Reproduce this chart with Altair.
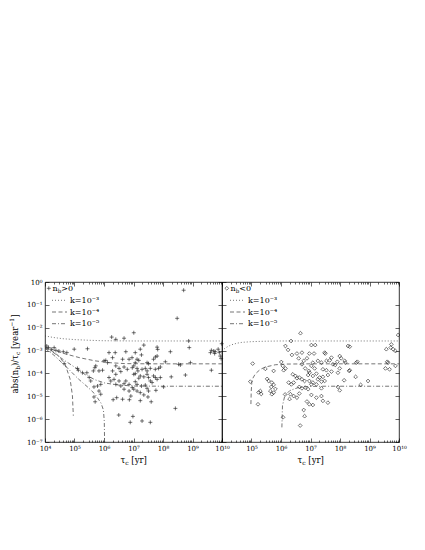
import altair as alt
import pandas as pd

# ---------------- data (log10 values) ----------------
# left panel: n_b > 0  (log10 tau_c [yr], log10 |n_b|/tau_c [1/yr])
pos_logtau = [4.06, 4.12, 4.21, 4.37, 4.31, 4.47, 4.62, 4.74, 4.99, 5.44, 4.65, 5.10, 5.13, 5.27, 5.42,
              5.50, 5.55, 5.64, 5.69, 5.83, 5.95, 5.72, 6.17, 6.38, 6.74, 6.68, 6.26, 6.40, 6.00, 6.06,
              6.12, 6.29, 6.63, 6.85, 6.40, 6.51, 6.68, 6.96, 6.29, 6.40, 6.57, 6.79, 6.17, 6.23, 6.34,
              6.51, 6.74, 6.40, 6.57, 6.68, 6.85, 6.96, 5.66, 5.78, 5.89, 5.83, 5.89, 5.66, 5.70, 6.68,
              6.85, 6.91, 6.43, 6.63, 6.50, 6.98, 6.89, 7.29, 7.57, 8.42, 6.31, 6.86, 7.23, 7.60,
              8.70, 8.48, 7.01, 8.87, 7.35, 7.80, 7.82, 8.25, 8.89, 7.06, 7.23, 7.27, 6.95, 7.12, 7.18,
              7.06, 7.46, 7.51, 7.68, 7.74, 7.80, 8.08, 7.91, 7.85, 7.74, 8.53, 8.59, 8.93, 7.01, 7.12,
              7.15, 7.29, 7.40, 7.46, 7.57, 7.01, 7.06, 7.18, 7.23, 7.35, 7.46, 7.51, 7.68, 7.74, 7.80,
              7.91, 7.57, 7.63, 8.28, 8.76, 7.06, 7.12, 7.27, 7.40, 8.02, 7.01, 7.12, 7.23, 7.46, 7.51,
              7.76, 7.35, 7.49, 9.61, 9.64, 9.72, 9.75, 9.77, 9.87, 9.91, 9.94, 9.97, 9.64, 9.99]
pos_lograte = [-2.80, -2.87, -2.94, -2.99, -2.87, -3.02, -3.05, -3.09, -2.94, -2.92, -3.57, -3.78, -3.86, -3.97, -3.97,
               -4.18, -4.33, -3.89, -3.75, -3.89, -3.86, -3.67, -3.09, -3.09, -3.05, -2.46, -2.41, -2.51, -3.45, -3.43,
               -3.53, -3.31, -3.38, -3.38, -3.67, -3.78, -3.72, -3.75, -3.89, -4.04, -3.92, -3.82, -4.18, -4.33, -4.26,
               -4.33, -4.33, -4.48, -4.55, -4.45, -4.48, -4.62, -4.59, -4.55, -4.48, -4.77, -4.91, -5.03, -5.24, -4.69,
               -4.77, -4.99, -5.06, -5.13, -5.82, -5.88, -6.14, -6.08, -6.14, -5.53, -5.15, -5.15, -5.19, -5.24,
               -0.36, -1.59, -2.22, -2.58, -2.76, -2.85, -2.95, -3.05, -2.87, -3.09, -2.94, -3.19, -3.31, -3.38, -3.43,
               -3.53, -3.53, -3.57, -3.38, -3.28, -3.24, -3.49, -3.72, -3.78, -3.82, -3.60, -3.63, -3.53, -3.67, -3.78,
               -3.89, -3.82, -3.78, -3.89, -3.78, -4.04, -4.01, -4.21, -4.11, -4.15, -4.04, -4.18, -4.11, -4.18, -4.26,
               -4.18, -4.33, -4.40, -4.15, -4.07, -4.36, -4.48, -4.55, -4.51, -4.59, -4.69, -4.77, -4.84, -4.65, -4.77,
               -4.74, -4.94, -5.03, -3.09, -2.99, -3.02, -3.13, -3.05, -2.94, -3.09, -3.24, -3.35, -3.86, -2.70]

# right panel: n_b < 0
neg_logtau = [6.66, 6.34, 6.15, 5.04, 5.47, 6.24, 6.37, 6.54, 6.71, 6.60, 6.77, 6.88, 6.96, 6.01, 6.06,
              6.15, 6.09, 6.71, 6.82, 6.94, 5.75, 6.40, 6.49, 6.54, 6.62, 6.71, 6.80, 6.92, 6.96, 7.03,
              6.26, 6.35, 6.43, 6.62, 6.71, 6.82, 6.92, 4.96, 5.53, 5.58, 5.69, 5.75, 5.67, 5.81, 5.64,
              5.75, 5.69, 5.30, 5.33, 5.24, 6.32, 6.43, 6.54, 6.62, 6.88, 6.96, 5.22, 6.77, 6.80, 6.07,
              6.65, 6.14, 6.29,
              7.03, 7.16, 7.12, 7.48, 7.50, 7.71, 7.99, 8.04, 7.91, 8.27, 8.33, 7.08, 7.25, 7.37, 7.54,
              7.65, 7.76, 7.84, 7.03, 7.14, 7.42, 7.54, 6.97, 7.08, 7.20, 7.31, 7.42, 7.59, 7.71, 7.93,
              7.99, 8.16, 8.18, 8.31, 8.33, 8.55, 8.59, 8.14, 8.53, 8.95, 8.70, 7.08, 7.20, 7.25, 7.37,
              7.48, 7.93, 7.99, 7.37, 7.03, 7.20, 7.37, 7.42, 7.59, 7.08, 9.74, 9.72, 9.80, 9.88, 9.57,
              9.60, 9.63, 9.88, 9.54, 9.68, 9.97]
neg_lograte = [-2.24, -2.58, -2.80, -3.57, -3.80, -2.97, -3.19, -3.13, -3.09, -3.34, -3.45, -3.34, -3.13, -3.50, -3.67,
               -3.78, -3.86, -3.60, -3.78, -3.89, -3.89, -4.04, -4.11, -4.21, -4.18, -4.26, -4.33, -4.07, -4.33, -4.48,
               -4.40, -4.48, -4.40, -4.59, -4.65, -4.62, -4.69, -4.36, -4.24, -4.33, -4.40, -4.50, -4.59, -4.68, -4.77,
               -4.84, -4.91, -4.77, -4.90, -4.83, -4.91, -4.99, -5.06, -4.88, -5.23, -5.35, -5.35, -5.60, -5.87, -5.92,
               -6.28, -4.92, -5.12,
               -2.76, -2.76, -3.13, -3.09, -3.13, -3.31, -3.24, -3.34, -3.49, -2.80, -2.83, -3.53, -3.45, -3.53, -3.45,
               -3.43, -3.60, -3.63, -3.67, -3.78, -3.82, -3.86, -3.97, -4.11, -4.01, -4.18, -4.15, -4.07, -3.92, -3.97,
               -3.78, -3.45, -3.53, -3.89, -3.86, -3.53, -3.49, -4.30, -4.15, -4.33, -4.50, -4.40, -4.48, -4.26, -4.36,
               -4.33, -4.59, -4.74, -4.65, -4.94, -5.06, -4.99, -5.20, -5.28, -5.38, -2.73, -2.87, -2.94, -3.02, -2.94,
               -3.49, -3.53, -3.67, -3.78, -3.82, -2.32]

# model curves (log10 tau, log10 rate), k = 1e-3 / 1e-4 / 1e-5
L_k3_x = [4.0, 4.3, 4.6, 5.0, 5.5, 6.0, 7.0, 8.0, 10.0]
L_k3_y = [-2.36, -2.43, -2.48, -2.52, -2.55, -2.57, -2.58, -2.58, -2.58]
L_k4a_x = [4.0, 4.3, 4.7, 5.2, 5.7, 6.2, 6.7, 7.5, 10.0]
L_k4a_y = [-2.84, -2.98, -3.15, -3.32, -3.45, -3.53, -3.57, -3.58, -3.58]
L_k4b_x = [4.0, 4.2, 4.45, 4.68, 4.85, 4.93, 4.96]
L_k4b_y = [-2.86, -2.98, -3.22, -3.59, -4.24, -4.97, -5.85]
L_k5a_x = [4.0, 4.3, 4.68, 5.0, 5.36, 5.7, 6.03, 6.5, 7.0, 8.0, 10.0]
L_k5a_y = [-2.88, -3.10, -3.45, -3.72, -4.05, -4.28, -4.42, -4.51, -4.55, -4.56, -4.56]
L_k5b_x = [4.0, 4.3, 4.68, 5.13, 5.45, 5.69, 5.9, 5.98, 6.01, 6.02]
L_k5b_y = [-2.90, -3.20, -3.66, -4.24, -4.60, -4.90, -5.30, -5.60, -6.10, -7.0]

R_k3_x = [4.0, 4.08, 4.2, 4.34, 4.5, 4.68, 5.0, 5.5, 6.0, 10.0]
R_k3_y = [-3.02, -2.92, -2.82, -2.74, -2.68, -2.64, -2.61, -2.59, -2.58, -2.58]
R_k4_x = [4.98, 4.99, 5.01, 5.05, 5.13, 5.3, 5.47, 5.81, 6.2, 7.0, 10.0]
R_k4_y = [-5.34, -4.80, -4.40, -4.20, -4.02, -3.82, -3.72, -3.62, -3.59, -3.58, -3.58]
R_k5_x = [6.03, 6.04, 6.05, 6.13, 6.3, 6.58, 6.92, 7.5, 10.0]
R_k5_y = [-6.36, -5.90, -5.41, -4.97, -4.75, -4.62, -4.57, -4.56, -4.56]

x_tick_exps = [4, 5, 6, 7, 8, 9, 10]
y_tick_exps = [0, -1, -2, -3, -4, -5, -6, -7]
k_labels = ["k=10⁻³", "k=10⁻⁴", "k=10⁻⁵"]

# ---------------- layout / style ----------------
W, H = 177, 160
FONT = "DejaVu Serif"
XS = alt.Scale(type="log", domain=[1e4, 1e10], nice=False)
YS = alt.Scale(type="log", domain=[1e-7, 1], nice=False)
x_major = [10.0 ** e for e in x_tick_exps]
x_minor = [m * 10.0 ** e for e in x_tick_exps[:-1] for m in range(2, 10)]
y_major = [10.0 ** e for e in y_tick_exps]
XLAB = ("'10' + ['⁰','¹','²','³','⁴','⁵','⁶','⁷','⁸','⁹','¹⁰']"
        "[round(log(datum.value)/LN10)]")
YLAB = ("'10' + ['⁰','⁻¹','⁻²','⁻³','⁻⁴','⁻⁵','⁻⁶','⁻⁷']"
        "[round(-log(datum.value)/LN10)]")
PLUS = "M-1,0L1,0M0,-1L0,1"

CW = {'a': .596, 'b': .640, 'c': .560, 'e': .592, 'n': .644, 'r': .478, 's': .514, 'y': .565,
      '(': .390, ')': .390, '/': .337, '[': .390, ']': .390, ' ': .318, '−': .838, '1': .636,
      '0': .636, '>': .838, '<': .838, 'τ': .560}


def ax(**kw):
    base = dict(grid=False, domain=False, title=None, labels=False, ticks=False,
                labelFlush=False, labelOverlap=False, tickColor="black", tickWidth=0.6,
                labelFont=FONT, labelFontSize=7, labelColor="black")
    base.update(kw)
    return alt.Axis(**base)


def text_layer(t, x, y, fs, angle=0):
    return alt.Chart(pd.DataFrame({"t": [t]})).mark_text(
        align="left", baseline="alphabetic", font=FONT, fontSize=fs, angle=angle, color="black"
    ).encode(x=alt.value(x), y=alt.value(y), text="t:N")


def rich(pieces, x0, y0, vertical=False):
    """pieces: (text, fontsize, shift) laid out along the reading direction."""
    layers, off = [], 0.0
    for t, fs, sh in pieces:
        lead = len(t) - len(t.lstrip(' '))
        off += lead * CW[' '] * fs
        s = t.strip()
        if vertical:
            layers.append(text_layer(s, x0 + sh, y0 - off, fs, angle=270))
        else:
            layers.append(text_layer(s, x0 + off, y0 + sh, fs))
        off += sum(CW.get(ch, .6) for ch in s) * fs
    return layers


def curves_df(branches):
    rows = []
    for k, name, xs, ys in branches:
        for i, (a, b) in enumerate(zip(xs, ys)):
            rows.append({"tau": 10 ** a, "rate": 10 ** b, "k": k, "branch": name, "idx": i})
    return pd.DataFrame(rows)


DASH = alt.Scale(domain=["k3", "k4", "k5"], range=[[1, 2], [4, 2.5], [4, 2, 1, 2]])


def panel(logtau, lograte, branches, shape, psize, left, legend_text, leg_dx):
    pts = pd.DataFrame({"tau": [10 ** v for v in logtau], "rate": [10 ** v for v in lograte]})
    xlab_vals = x_major if left else x_major[1:]
    yaxis_main = ax(orient="left", values=y_major, labels=left, labelExpr=YLAB, labelPadding=3)
    p = alt.Chart(pts).mark_point(shape=shape, filled=False, size=psize, strokeWidth=0.6,
                                  color="#1a1a1a", opacity=1).encode(
        x=alt.X("tau:Q", scale=XS, axis=ax(orient="bottom", values=xlab_vals, labels=True,
                                            labelExpr=XLAB, labelPadding=2)),
        y=alt.Y("rate:Q", scale=YS, axis=yaxis_main))
    c = alt.Chart(curves_df(branches)).mark_line(strokeWidth=0.7, color="#3a3a3a", clip=True).encode(
        x=alt.X("tau:Q", scale=XS, axis=ax(orient="top", offset=-H, values=x_major, ticks=True, tickSize=4)),
        y=alt.Y("rate:Q", scale=YS, axis=ax(orient="right", offset=-W, values=y_major, ticks=True, tickSize=4)),
        strokeDash=alt.StrokeDash("k:N", scale=DASH, legend=None),
        detail="branch:N", order="idx:Q")
    d1 = alt.Chart(pts).mark_point(opacity=0).encode(
        x=alt.X("tau:Q", scale=XS, axis=ax(orient="top", offset=-H, values=x_minor, ticks=True, tickSize=2)),
        y=alt.Y("rate:Q", scale=YS, axis=ax(orient="left", offset=-W, values=y_major, ticks=True, tickSize=4)))
    d2 = alt.Chart(pts).mark_point(opacity=0).encode(
        x=alt.X("tau:Q", scale=XS, axis=ax(orient="bottom", offset=-H, values=x_major, ticks=True, tickSize=4)),
        y=alt.Y("rate:Q", scale=YS, axis=None))
    d3 = alt.Chart(pts).mark_point(opacity=0).encode(
        x=alt.X("tau:Q", scale=XS, axis=ax(orient="bottom", offset=-H, values=x_minor, ticks=True, tickSize=2)),
        y=alt.Y("rate:Q", scale=YS, axis=None))

    layers = [p, c, d1, d2, d3]
    # legend
    rows_y = [6.3, 18.3, 30.0, 41.7]
    one = pd.DataFrame({"a": [0]})
    layers.append(alt.Chart(one).mark_point(shape=shape, filled=False, size=psize, strokeWidth=0.6,
                                            color="#1a1a1a", opacity=1)
                  .encode(x=alt.value(3.8 + leg_dx), y=alt.value(rows_y[0])))
    layers += rich([("n", 8, 0), ("b", 5.6, 2), (legend_text, 8, 0)], 7.5 + leg_dx, rows_y[0] + 2.7)
    for dash, ry, lab in zip([[1, 2], [4, 2.5], [4, 2, 1, 2]], rows_y[1:], k_labels):
        layers.append(alt.Chart(one).mark_rule(strokeWidth=0.7, color="#3a3a3a", strokeDash=dash)
                      .encode(x=alt.value(7 + leg_dx), x2=alt.value(22 + leg_dx), y=alt.value(ry)))
        layers.append(text_layer(lab, 25 + leg_dx, ry + 2.7, 8))
    # x title: tau_c [yr]
    layers += rich([("τ", 8.5, 0), ("c", 6, 2), (" [yr]", 8.5, 0)], W / 2 - 13, 181)
    # y title
    if left:
        layers += rich([("abs(n", 8.5, 0), ("b", 6, 2.2), (")/τ", 8.5, 0), ("c", 6, 2.2),
                        (" [year", 8.5, 0), ("−1", 6, -3.5), ("]", 8.5, 0)], -27.5, 111.5, vertical=True)
    return alt.layer(*layers).resolve_axis(x="independent", y="independent").properties(width=W, height=H)


left = panel(pos_logtau, pos_lograte,
             [("k3", "L3", L_k3_x, L_k3_y), ("k4", "L4a", L_k4a_x, L_k4a_y), ("k4", "L4b", L_k4b_x, L_k4b_y),
              ("k5", "L5a", L_k5a_x, L_k5a_y), ("k5", "L5b", L_k5b_x, L_k5b_y)],
             PLUS, 16, True, ">0", 0)
right = panel(neg_logtau, neg_lograte,
              [("k3", "R3", R_k3_x, R_k3_y), ("k4", "R4", R_k4_x, R_k4_y), ("k5", "R5", R_k5_x, R_k5_y)],
              "diamond", 14, False, "<0", 1)

chart = alt.hconcat(left, right, spacing=0, bounds="flush").properties(
    padding={"left": 0, "top": 269, "right": 5, "bottom": 5}
).configure_view(stroke="black", strokeWidth=0.8)

chart.save("out.html", embed_options={"renderer": "svg", "actions": False})
